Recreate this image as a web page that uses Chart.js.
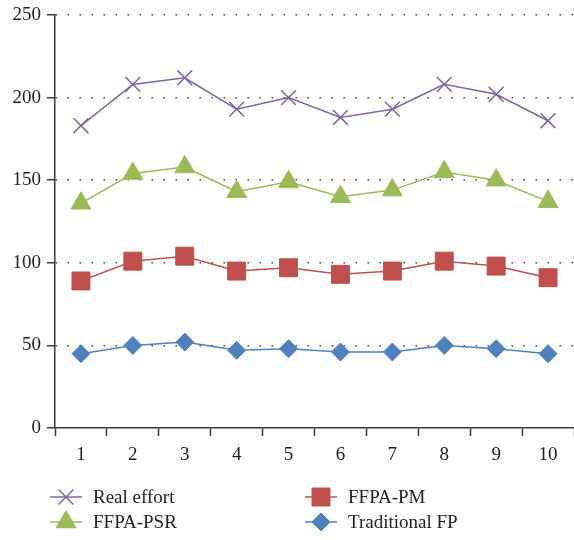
<!DOCTYPE html>
<html>
<head>
<meta charset="utf-8">
<style>
body { margin: 0; background: #fff; }
canvas { display: block; }
</style>
<script src="https://cdn.jsdelivr.net/npm/chart.js@4.4.1/dist/chart.umd.min.js"></script>
</head>
<body>
<canvas id="effortChart" width="574" height="540"></canvas>
<script>
// Data
var projects = ['1', '2', '3', '4', '5', '6', '7', '8', '9', '10'];
var realEffort = [183, 208, 212, 193, 200, 188, 193, 208, 202, 186];
var ffpaPM = [89, 101, 104, 95, 97, 93, 95, 101, 98, 91];
var ffpaPSR = [136, 154, 158, 143, 149, 140, 144, 155, 150, 137];
var traditionalFP = [45, 50, 52, 47, 48, 46, 46, 50, 48, 45];
var yMin = 0, yMax = 250, yStep = 50;

var fontFamily = "'Liberation Serif', 'Times New Roman', serif";
var axisColor = '#3a3a3a';

const makeDataset = (label, data, color, style, radius) => {
    return {
        label: label,
        data: data,
        borderColor: color,
        backgroundColor: color,
        pointBackgroundColor: color,
        pointBorderColor: color,
        pointStyle: style,
        pointRadius: radius,
        pointBorderWidth: style === 'crossRot' ? 1.5 : 1,
        borderWidth: 1.5,
        tension: 0,
        fill: false
    };
};

var datasets = [
    makeDataset('Real effort', realEffort, '#8064a2', 'crossRot', 10.5),
    makeDataset('FFPA-PM', ffpaPM, '#c0504d', 'rect', 12.7),
    makeDataset('FFPA-PSR', ffpaPSR, '#9bbb59', 'triangle', 11.5),
    makeDataset('Traditional FP', traditionalFP, '#4f81bd', 'rectRot', 9)
];

// Two-column legend under the plot
var bottomLegend = {
    id: 'bottomLegend',
    afterDraw: function (chart) {
        var ctx = chart.ctx;
        ctx.save();
        chart.data.datasets.forEach(function (ds, i) {
            var x0 = (i % 2 === 0) ? 50 : 305;
            var y = (i < 2) ? 497 : 522;
            ctx.strokeStyle = ds.borderColor;
            ctx.lineWidth = 1.5;
            ctx.beginPath();
            ctx.moveTo(x0, y);
            ctx.lineTo(x0 + 32, y);
            ctx.stroke();
            ctx.fillStyle = ds.pointBackgroundColor;
            ctx.strokeStyle = ds.pointBorderColor;
            ctx.lineWidth = ds.pointBorderWidth;
            Chart.helpers.drawPoint(ctx, {
                pointStyle: ds.pointStyle,
                radius: ds.pointRadius,
                rotation: 0,
                borderWidth: ds.pointBorderWidth
            }, x0 + 16, y);
            ctx.fillStyle = '#222';
            ctx.font = '19px ' + fontFamily;
            ctx.textBaseline = 'middle';
            ctx.textAlign = 'left';
            ctx.fillText(ds.label, x0 + 43, y + 1);
        });
        ctx.restore();
    }
};

var effortChart = new Chart(document.getElementById('effortChart'), {
    type: 'line',
    data: {
        labels: projects,
        datasets: datasets
    },
    options: {
        responsive: false,
        animation: false,
        devicePixelRatio: 1,
        layout: {
            autoPadding: false,
            padding: { top: 15, right: 0, bottom: 0, left: 0 }
        },
        plugins: {
            legend: { display: false },
            tooltip: { enabled: false }
        },
        scales: {
            x: {
                offset: true,
                grid: {
                    offset: true,
                    drawOnChartArea: false,
                    drawTicks: true,
                    tickLength: 8,
                    tickColor: axisColor,
                    tickWidth: 1.5
                },
                border: { color: axisColor, width: 1.5 },
                ticks: {
                    color: '#222',
                    padding: 8,
                    font: { family: fontFamily, size: 19 }
                },
                afterFit: function (scale) {
                    scale.height = 112;
                    scale.paddingLeft = 0;
                    scale.paddingRight = 0;
                }
            },
            y: {
                min: yMin,
                max: yMax,
                ticks: {
                    stepSize: yStep,
                    color: '#222',
                    padding: 6,
                    font: { family: fontFamily, size: 19 }
                },
                grid: {
                    color: function (c) {
                        return c.tick && c.tick.value === 0 ? 'rgba(0,0,0,0)' : '#444';
                    },
                    lineWidth: 1.5,
                    drawTicks: true,
                    tickLength: 8,
                    tickColor: axisColor,
                    tickWidth: 1.5,
                    tickBorderDash: []
                },
                border: { color: axisColor, width: 1.5, dash: [1.5, 10.5] },
                afterFit: function (scale) {
                    scale.width = 55;
                    scale.paddingTop = 0;
                    scale.paddingBottom = 0;
                }
            }
        }
    },
    plugins: [bottomLegend]
});
</script>
</body>
</html>
